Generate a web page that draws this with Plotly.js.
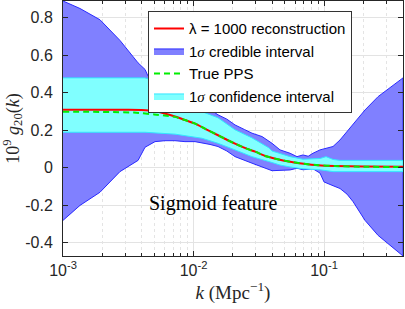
<!DOCTYPE html>
<html>
<head>
<meta charset="utf-8">
<script src="https://cdn.plot.ly/plotly-3.0.1.min.js"></script>
<style>html,body{margin:0;padding:0;background:#fff;}#chart{width:405px;height:309px;}</style>
</head>
<body>
<div id="chart"></div>
<script>
// ---- data ----
const credUpperK = [0.001, 0.00135, 0.00192, 0.00273, 0.00376, 0.00425, 0.00448, 0.0055, 0.0066, 0.00721, 0.0086, 0.01027, 0.01162, 0.0135, 0.0154, 0.018, 0.0208, 0.0245, 0.02807, 0.03349, 0.03995, 0.046, 0.0549, 0.0621, 0.069, 0.0756, 0.0823, 0.0932, 0.1036, 0.1172, 0.1326, 0.15, 0.1668, 0.2061, 0.2594, 0.332, 0.403];
const credUpperV = [0.89, 0.85, 0.79, 0.68, 0.56, 0.525, 0.49, 0.42, 0.39, 0.38, 0.363, 0.345, 0.327, 0.31, 0.283, 0.26, 0.229, 0.205, 0.185, 0.167, 0.131, 0.096, 0.078, 0.06, 0.069, 0.062, 0.078, 0.096, 0.105, 0.114, 0.149, 0.194, 0.238, 0.309, 0.38, 0.434, 0.48];
const credLowerK = [0.001, 0.00135, 0.00192, 0.00273, 0.00376, 0.00425, 0.00507, 0.00605, 0.00721, 0.0086, 0.01027, 0.01338, 0.0154, 0.018, 0.0208, 0.0245, 0.02807, 0.03995, 0.0549, 0.0621, 0.069, 0.0823, 0.0932, 0.1, 0.1172, 0.1326, 0.15, 0.1668, 0.2061, 0.2594, 0.332, 0.403];
const credLowerV = [-0.28, -0.2, -0.13, -0.02, 0.04, 0.11, 0.14, 0.145, 0.145, 0.14, 0.14, 0.125, 0.114, 0.09, 0.06, 0.04, 0.025, -0.015, -0.011, -0.002, -0.01, -0.005, -0.028, -0.075, -0.095, -0.11, -0.14, -0.18, -0.28, -0.36, -0.42, -0.47];
const confUpperK = [0.001, 0.00425, 0.0047, 0.0055, 0.0066, 0.00721, 0.0086, 0.01162, 0.0154, 0.0208, 0.02807, 0.0377, 0.03995, 0.0549, 0.069, 0.0932, 0.1036, 0.1172, 0.1326, 0.403];
const confUpperV = [0.48, 0.48, 0.47, 0.42, 0.38, 0.36, 0.345, 0.30, 0.267, 0.203, 0.16, 0.107, 0.09, 0.06, 0.046, 0.05, 0.06, 0.045, 0.04, 0.04];
const confLowerK = [0.001, 0.00425, 0.0055, 0.00721, 0.01162, 0.0154, 0.0208, 0.02807, 0.0377, 0.046, 0.0549, 0.069, 0.0932, 0.1172, 0.403];
const confLowerV = [0.19, 0.19, 0.185, 0.18, 0.158, 0.131, 0.096, 0.06, 0.034, 0.015, 0.005, -0.005, -0.01, -0.02, -0.02];
const recK = [0.001, 0.003, 0.004, 0.005, 0.006, 0.0072, 0.0086, 0.0103, 0.0125, 0.015, 0.018, 0.021, 0.025, 0.03, 0.036, 0.045, 0.055, 0.07, 0.09, 0.12, 0.2, 0.403];
const recV = [0.31, 0.31, 0.309, 0.303, 0.29, 0.274, 0.255, 0.236, 0.205, 0.178, 0.15, 0.128, 0.105, 0.085, 0.062, 0.045, 0.033, 0.022, 0.014, 0.01, 0.007, 0.006];
const trueK = [0.001, 0.0035, 0.005, 0.006, 0.0072, 0.0086, 0.0103, 0.0125, 0.015, 0.018, 0.021, 0.025, 0.03, 0.036, 0.045, 0.055, 0.07, 0.09, 0.12, 0.2, 0.403];
const trueV = [0.30, 0.295, 0.285, 0.279, 0.272, 0.255, 0.236, 0.205, 0.178, 0.15, 0.128, 0.105, 0.085, 0.062, 0.045, 0.033, 0.022, 0.014, 0.01, 0.006, 0.004];
const xTickVals = [0.001, 0.01, 0.1];
const xTickText = ['10<sup>-3</sup>', '10<sup>-2</sup>', '10<sup>-1</sup>'];
const xMinorVals = [0.002,0.003,0.004,0.005,0.006,0.007,0.008,0.009,0.02,0.03,0.04,0.05,0.06,0.07,0.08,0.09,0.2,0.3,0.4];
const yTickVals = [-0.4, -0.2, 0, 0.2, 0.4, 0.6, 0.8];
const yTickText = ['-0.4', '-0.2', '0', '0.2', '0.4', '0.6', '0.8'];
const labels = {
  rec: '\u03bb = 1000 reconstruction',
  cred: '1<span style="font-family:\'Liberation Serif\',serif"><i>\u03c3</i></span> credible interval',
  truth: 'True PPS',
  conf: '1<span style="font-family:\'Liberation Serif\',serif"><i>\u03c3</i></span> confidence interval'
};

function band(uk, uv, lk, lv) {
  return {x: uk.concat(lk.slice().reverse()), y: uv.concat(lv.slice().reverse())};
}
const credBand = band(credUpperK, credUpperV, credLowerK, credLowerV);
const confBand = band(confUpperK, confUpperV, confLowerK, confLowerV);

const traces = [
  {x: credBand.x, y: credBand.y, type: 'scatter', mode: 'lines', fill: 'toself',
   fillcolor: '#8080ff', line: {color: '#2a2aff', width: 1}, name: labels.cred, legendrank: 2},
  {x: confBand.x, y: confBand.y, type: 'scatter', mode: 'lines', fill: 'toself',
   fillcolor: '#80ffff', line: {color: '#33e6ff', width: 1}, name: labels.conf, legendrank: 4},
  {x: recK, y: recV, type: 'scatter', mode: 'lines', line: {color: '#ff0000', width: 2, shape: 'spline', smoothing: 0.6},
   name: labels.rec, legendrank: 1},
  {x: trueK, y: trueV, type: 'scatter', mode: 'lines', line: {color: '#00ee00', width: 2, dash: '6px,4px', shape: 'spline', smoothing: 0.6},
   name: labels.truth, legendrank: 3}
];

const axisCol = '#262626';
const layout = {
  width: 405, height: 309,
  margin: {l: 63, r: 2, t: 1, b: 53},
  paper_bgcolor: '#ffffff', plot_bgcolor: '#ffffff',
  font: {family: 'Liberation Sans, Arial, sans-serif', size: 16, color: axisCol},
  showlegend: true,
  legend: {x: 0.25, y: 0.96, xanchor: 'left', yanchor: 'top', bgcolor: '#ffffff',
           bordercolor: '#333333', borderwidth: 1, font: {size: 15, color: '#000'},
           traceorder: 'normal', tracegroupgap: 0, itemwidth: 30,
           entrywidth: 205, entrywidthmode: 'pixels'},
  xaxis: {type: 'log', range: [-3, -0.395], tickvals: xTickVals, ticktext: xTickText,
          ticks: 'inside', ticklen: 5, tickcolor: axisCol, showline: true, linecolor: axisCol, linewidth: 1, mirror: 'ticks',
          showgrid: true, gridcolor: '#e3e3e3', gridwidth: 1, zeroline: false,
          tickfont: {size: 16, color: axisCol},
          minor: {tickvals: xMinorVals, ticks: 'inside', ticklen: 3, tickcolor: axisCol, showgrid: true, gridcolor: '#e4e4e4', griddash: 'dot', gridwidth: 1},
          title: {text: '<i>k</i> (Mpc<sup>\u22121</sup>)', font: {family: 'Liberation Serif, serif', size: 19, color: axisCol}, standoff: 5}},
  yaxis: {range: [-0.47, 0.89], tickvals: yTickVals, ticktext: yTickText,
          ticks: 'inside', ticklen: 5, tickcolor: axisCol, showline: true, linecolor: axisCol, linewidth: 1, mirror: 'ticks',
          showgrid: true, gridcolor: '#e3e3e3', gridwidth: 1, zeroline: false,
          tickfont: {size: 16, color: axisCol}, ticklabelstandoff: 6,
          title: {text: '10<sup>9</sup> <i>g</i><sub>20</sub>(<i>k</i>)', font: {family: 'Liberation Serif, serif', size: 18, color: axisCol}, standoff: 3}},
  annotations: [{x: -1.85, y: -0.19, xref: 'x', yref: 'y', text: 'Sigmoid feature', showarrow: false,
                 font: {family: 'Liberation Serif, serif', size: 20, color: '#000'}}]
};

Plotly.newPlot('chart', traces, layout, {displayModeBar: false});
</script>
</body>
</html>
